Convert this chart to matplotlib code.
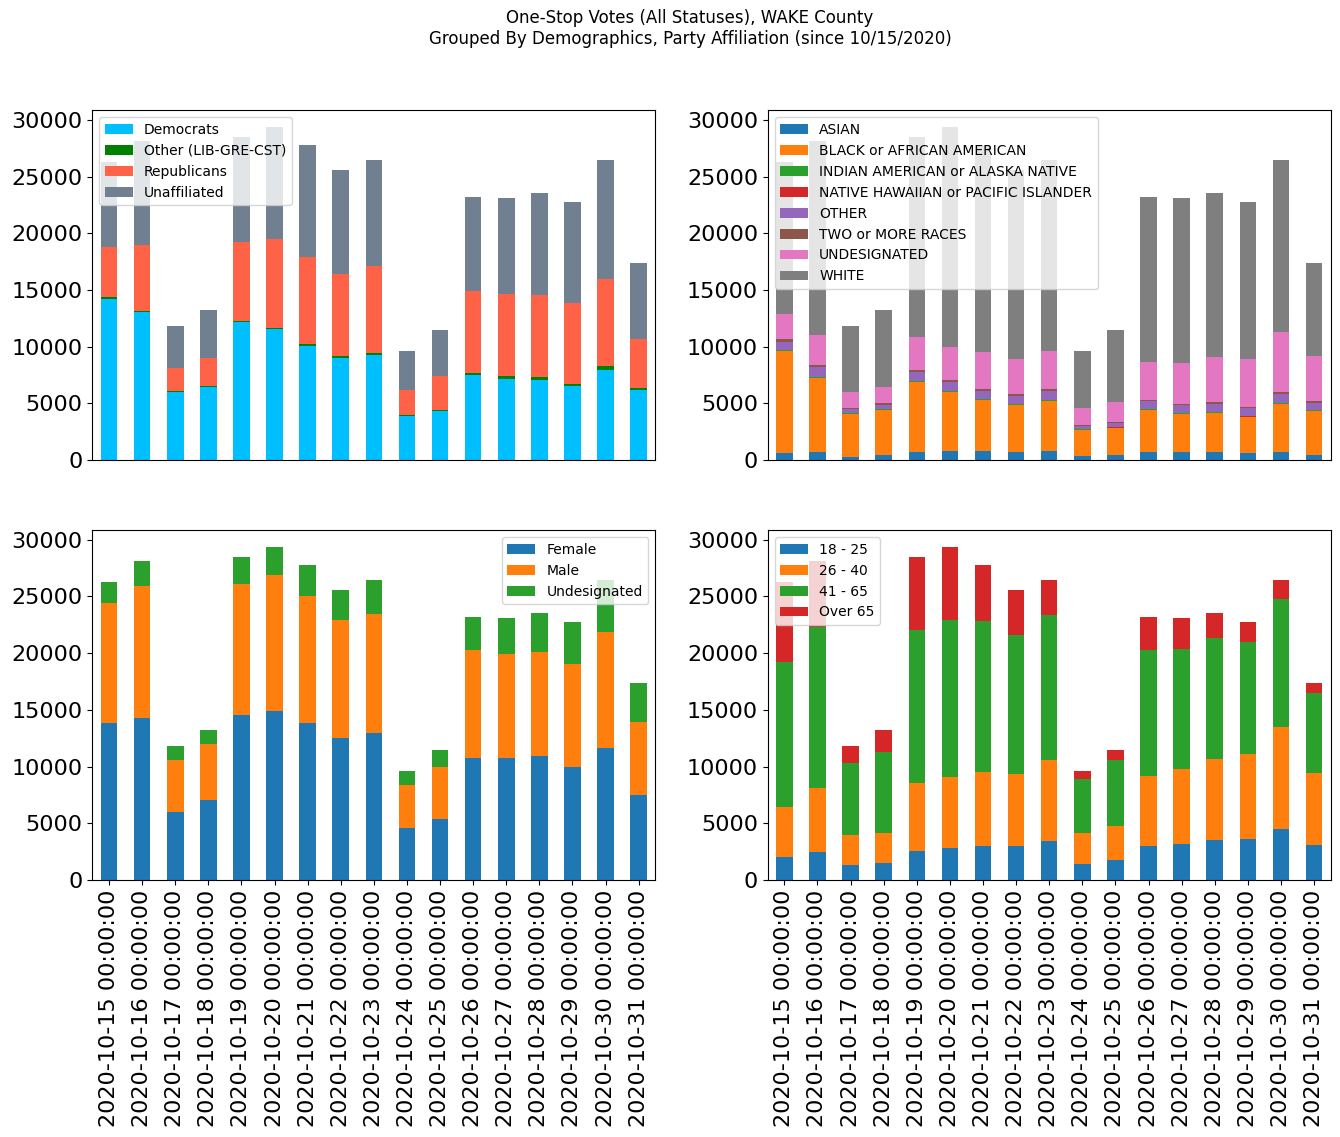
#!/usr/bin/env python3
"""One-stop votes in WAKE County, stacked by party, race, gender and age."""

import matplotlib
matplotlib.use("Agg")
import matplotlib.pyplot as plt
import pandas as pd

DATES = pd.date_range("2020-10-15", "2020-10-31", freq="D")

# party affiliation
DEMOCRATS = [14210, 13090, 6030, 6470, 12210, 11560, 10060, 9030, 9260,
             3910, 4320, 7500, 7150, 7060, 6530, 7940, 6180]
OTHER_PARTY = [170, 90, 90, 90, 80, 90, 180, 180, 180,
               90, 90, 210, 290, 290, 210, 380, 200]
REPUBLICANS = [4410, 5790, 2030, 2470, 6970, 7850, 7670, 7230, 7710,
               2210, 3030, 7200, 7240, 7210, 7110, 7650, 4300]
UNAFFILIATED = [7510, 9180, 3670, 4210, 9240, 9880, 9880, 9150, 9320,
                3410, 4030, 8290, 8440, 9000, 8910, 10500, 6700]

# race
ASIAN = [650, 740, 260, 440, 740, 790, 790, 740, 790,
         380, 440, 740, 740, 740, 650, 740, 440]
BLACK = [8970, 6520, 3830, 4000, 6170, 5240, 4530, 4140, 4450,
         2300, 2410, 3700, 3350, 3440, 3140, 4230, 3910]
INDIAN = [50, 90, 40, 40, 70, 60, 60, 60, 60,
          30, 30, 90, 60, 60, 60, 60, 90]
HAWAIIAN = [20, 20, 10, 10, 20, 20, 20, 20, 20,
            10, 10, 20, 20, 20, 20, 20, 20]
OTHER_RACE = [750, 870, 390, 390, 790, 800, 720, 720, 800,
              310, 400, 690, 710, 710, 750, 800, 600]
TWO_RACES = [240, 140, 90, 150, 180, 180, 170, 170, 170,
             90, 90, 80, 90, 180, 90, 180, 180]
UNDES_RACE = [2200, 2650, 1380, 1410, 2880, 2880, 3240, 3060, 3330,
              1500, 1770, 3360, 3620, 3970, 4230, 5290, 3940]
WHITE = [13420, 17120, 5820, 6800, 17650, 19410, 18260, 16680, 16850,
         5000, 6320, 14520, 14530, 14440, 13820, 15150, 8200]

# gender
FEMALE = [13850, 14290, 6000, 7060, 14560, 14910, 13850, 12530, 12970,
          4590, 5380, 10760, 10760, 10940, 9970, 11650, 7500]
MALE = [10590, 11650, 4590, 4940, 11560, 12000, 11210, 10410, 10500,
        3790, 4590, 9530, 9180, 9180, 9090, 10230, 6440]
UNDES_GENDER = [1860, 2210, 1230, 1240, 2380, 2470, 2730, 2650, 3000,
                1240, 1500, 2910, 3180, 3440, 3700, 4590, 3440]

# age groups
AGE_18_25 = [2030, 2470, 1320, 1500, 2560, 2820, 3000, 3000, 3440,
             1410, 1760, 3000, 3180, 3530, 3620, 4500, 3090]
AGE_26_40 = [4410, 5650, 2650, 2650, 6000, 6270, 6530, 6350, 7150,
             2740, 3000, 6180, 6610, 7150, 7500, 9000, 6350]
AGE_41_65 = [12800, 14180, 6350, 7140, 13500, 13850, 13320, 12270, 12790,
             4760, 5830, 11110, 10590, 10670, 9880, 11290, 7060]
AGE_OVER_65 = [7060, 5850, 1500, 1950, 6440, 6440, 4940, 3970, 3090,
               710, 880, 2910, 2740, 2210, 1760, 1680, 880]


def stacked(ax, frame, colors, loc):
    frame.plot(kind="bar", stacked=True, ax=ax, color=colors, width=0.5,
               fontsize=16)
    ax.legend(loc=loc, fontsize=10)
    ax.set_xlabel("")


def main():
    labels = [d.strftime("%Y-%m-%d %H:%M:%S") for d in DATES]

    party = pd.DataFrame({
        "Democrats": DEMOCRATS,
        "Other (LIB-GRE-CST)": OTHER_PARTY,
        "Republicans": REPUBLICANS,
        "Unaffiliated": UNAFFILIATED,
    }, index=labels)
    race = pd.DataFrame({
        "ASIAN": ASIAN,
        "BLACK or AFRICAN AMERICAN": BLACK,
        "INDIAN AMERICAN or ALASKA NATIVE": INDIAN,
        "NATIVE HAWAIIAN or PACIFIC ISLANDER": HAWAIIAN,
        "OTHER": OTHER_RACE,
        "TWO or MORE RACES": TWO_RACES,
        "UNDESIGNATED": UNDES_RACE,
        "WHITE": WHITE,
    }, index=labels)
    gender = pd.DataFrame({
        "Female": FEMALE,
        "Male": MALE,
        "Undesignated": UNDES_GENDER,
    }, index=labels)
    age = pd.DataFrame({
        "18 - 25": AGE_18_25,
        "26 - 40": AGE_26_40,
        "41 - 65": AGE_41_65,
        "Over 65": AGE_OVER_65,
    }, index=labels)

    fig, axes = plt.subplots(2, 2, figsize=(13.4, 11.37))
    fig.subplots_adjust(left=0.069, right=0.993, top=0.903, bottom=0.226,
                        wspace=0.2, hspace=0.2)
    fig.suptitle("One-Stop Votes (All Statuses), WAKE County\n"
                 "Grouped By Demographics, Party Affiliation (since 10/15/2020)",
                 fontsize=12, x=0.515, y=0.992)

    tab = plt.rcParams["axes.prop_cycle"].by_key()["color"]
    stacked(axes[0, 0], party,
            ["deepskyblue", "green", "tomato", "slategray"], "upper left")
    stacked(axes[0, 1], race, tab[:8], "upper left")
    stacked(axes[1, 0], gender, tab[:3], "upper right")
    stacked(axes[1, 1], age, tab[:4], "upper left")

    for ax in axes[0]:
        ax.tick_params(axis="x", bottom=False, labelbottom=False)
    for ax in axes[1]:
        ax.tick_params(axis="x", labelrotation=90)

    plt.savefig("out.png", dpi=100)


if __name__ == "__main__":
    main()
